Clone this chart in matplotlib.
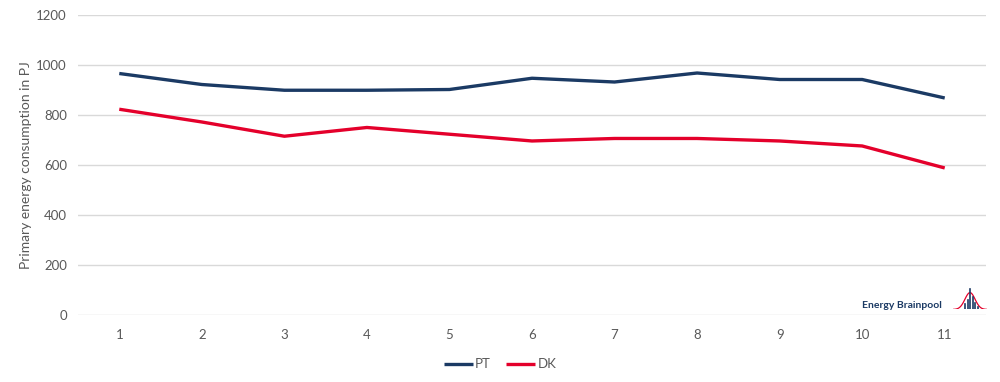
import matplotlib
matplotlib.use("Agg")
import matplotlib.pyplot as plt
import numpy as np

# data
years = list(range(1, 12))
pt_values = [967, 923, 900, 900, 903, 948, 933, 969, 943, 943, 869]
dk_values = [824, 773, 716, 751, 724, 697, 707, 707, 697, 677, 589]
y_ticks = [0, 200, 400, 600, 800, 1000, 1200]

plt.rcParams['font.family'] = ['Lato', 'DejaVu Sans']

fig = plt.figure(figsize=(10, 3.82), dpi=100)
ax = fig.add_axes([0.078, 0.175, 0.908, 0.785])

ax.plot(years, pt_values, color='#1b3a64', linewidth=2.4, label='PT', solid_capstyle='butt')
ax.plot(years, dk_values, color='#e4002b', linewidth=2.4, label='DK', solid_capstyle='butt')

ax.set_xlim(0.5, 11.5)
ax.set_ylim(0, 1200)
ax.set_xticks(years)
ax.set_yticks(y_ticks)
ax.tick_params(axis='both', length=0, labelsize=9.5, colors='#595959', pad=8)
ax.tick_params(axis='x', pad=10)
ax.grid(axis='y', color='#d9d9d9', linewidth=1)
ax.set_axisbelow(True)
for s in ax.spines.values():
    s.set_visible(False)

ax.set_ylabel('Primary energy consumption in PJ', fontsize=10, color='#595959', labelpad=3)

leg = fig.legend(loc='lower center', bbox_to_anchor=(0.5, 0.0), ncol=2, frameon=False,
                 fontsize=9.5, handlelength=2.2, handletextpad=0.15, columnspacing=1.2)
for t in leg.get_texts():
    t.set_color('#595959')

# logo
fig.text(0.942, 0.2, 'Energy Brainpool', ha='right', va='center', fontsize=7.5,
         fontweight='bold', color='#1b3a64')
logo = fig.add_axes([0.953, 0.19, 0.034, 0.055])
bx = np.linspace(-3, 3, 60)
logo.plot(bx, np.exp(-bx ** 2 / 1.6), color='#e4002b', linewidth=0.9)
for xb, hb in zip([-0.8, -0.35, 0.05, 0.5, 0.95, 1.4], [0.3, 0.55, 1.2, 0.75, 0.4, 0.15]):
    logo.plot([xb, xb], [0, hb], color='#1b3a64', linewidth=1.2)
logo.set_xlim(-3, 3)
logo.set_ylim(0, 1.25)
logo.axis('off')

fig.savefig('out.png', dpi=100)
